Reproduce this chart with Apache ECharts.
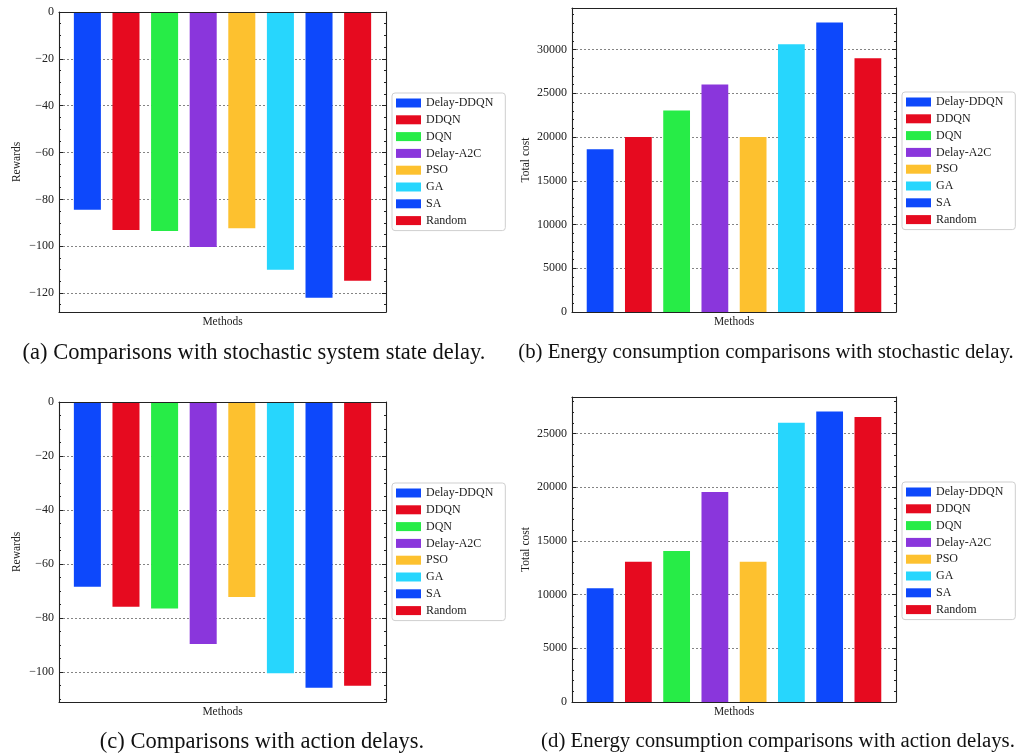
<!DOCTYPE html>
<html>
<head>
<meta charset="utf-8">
<script src="https://cdn.jsdelivr.net/npm/echarts@6/dist/echarts.min.js"></script>
<style>
  html, body { margin: 0; padding: 0; background: #fff; }
  #chart { width: 1018px; height: 753px; }
</style>
</head>
<body>
<div id="chart"></div>
<script>
// Methods compared in every panel, with their bar colours
const methods = ['Delay-DDQN', 'DDQN', 'DQN', 'Delay-A2C', 'PSO', 'GA', 'SA', 'Random'];
const methodColors = ['#0d48fb', '#e60a1f', '#27ec47', '#8a36dc', '#fdc12f', '#27d6fd', '#0d48fb', '#e60a1f'];

// (a) rewards under stochastic system state delay
const rewardsStochastic = [-84.4, -93.1, -93.5, -100.3, -92.3, -110.1, -122.0, -114.8];
// (b) total energy cost under stochastic delay
const costStochastic = [18600, 20000, 23050, 26000, 20000, 30600, 33100, 29000];
// (c) rewards under action delays
const rewardsAction = [-68.4, -75.8, -76.5, -89.6, -72.2, -100.4, -105.8, -105.1];
// (d) total energy cost under action delays
const costAction = [10600, 13050, 14050, 19550, 13050, 26000, 27050, 26550];

const captions = [
  '(a) Comparisons with stochastic system state delay.',
  '(b) Energy consumption comparisons with stochastic delay.',
  '(c) Comparisons with action delays.',
  '(d) Energy consumption comparisons with action delays.'
];
const yNames = ['Rewards', 'Total cost', 'Rewards', 'Total cost'];
const xName = 'Methods';

const serif = '"Liberation Serif", "DejaVu Serif", serif';
const ink = '#222';

// 5 % padding beyond the data, bars anchored at zero
function padExtent(values) {
  const lo = Math.min(0, ...values), hi = Math.max(0, ...values);
  return [lo < 0 ? lo * 1.05 : 0, hi > 0 ? hi * 1.05 : 0];
}
// bar slots at 0..n-1, width 0.7, plus 5 % side margins
const barHalf = 0.35;
const xSpan = methods.length - 1 + 2 * barHalf;
const xMin = -barHalf - 0.05 * xSpan, xMax = methods.length - 1 + barHalf + 0.05 * xSpan;

const panels = [
  { values: rewardsStochastic, grid: { left: 59, top: 12, width: 327, height: 300 }, legend: { left: 392, top: 93 }, split: 6, minor: 4, nameGap: 36 },
  { values: costStochastic,    grid: { left: 572, top: 8, width: 324, height: 304 }, legend: { left: 902, top: 92 }, split: 7, minor: 5, nameGap: 40 },
  { values: rewardsAction,     grid: { left: 59, top: 402, width: 327, height: 300 }, legend: { left: 392, top: 483 }, split: 6, minor: 4, nameGap: 36 },
  { values: costAction,        grid: { left: 572, top: 397, width: 324, height: 305 }, legend: { left: 902, top: 482 }, split: 6, minor: 5, nameGap: 40 }
];
// caption centre and font size under each panel
const captionLayout = [[254, 353, 22.5], [766, 353, 20.8], [262, 742, 22.5], [778, 742, 20.8]];

const fmt = v => (v < 0 ? '\u2212' + Math.abs(v) : String(v));

const option = {
  backgroundColor: '#fff',
  animation: false,
  grid: [], xAxis: [], yAxis: [], legend: [], series: [], graphic: []
};

panels.forEach((p, pi) => {
  const [yMin, yMax] = padExtent(p.values);
  const neg = yMin < 0;
  option.grid.push(Object.assign({ containLabel: false }, p.grid));

  const frameLine = { show: true, onZero: false, lineStyle: { color: ink, width: 1.1 } };
  // bottom axis: frame edge and axis title
  option.xAxis.push({
    gridIndex: pi, type: 'value', min: xMin, max: xMax, position: 'bottom', z: 5,
    axisLine: frameLine, axisTick: { show: false }, axisLabel: { show: false }, splitLine: { show: false },
    name: xName, nameLocation: 'middle', nameGap: 4,
    nameTextStyle: { fontFamily: serif, fontSize: 11.5, color: ink, verticalAlign: 'top' }
  });
  // top frame edge
  option.xAxis.push({
    gridIndex: pi, type: 'value', min: xMin, max: xMax, position: 'top', z: 5,
    axisLine: frameLine, axisTick: { show: false }, axisLabel: { show: false }, splitLine: { show: false }
  });

  const scale = { gridIndex: pi, type: 'value', min: yMin, max: yMax, splitNumber: p.split };
  // labels, title and dashed grid lines (kept beneath the bars)
  option.yAxis.push(Object.assign({}, scale, {
    position: 'left',
    axisLine: { show: false, onZero: false }, axisTick: { show: false },
    axisLabel: {
      fontFamily: serif, fontSize: 12, color: ink, margin: 5, formatter: fmt,
      showMinLabel: !neg, showMaxLabel: neg, interval: 0
    },
    splitLine: { show: true, lineStyle: { color: '#777', width: 0.9, type: [2, 2] } },
    name: yNames[pi], nameLocation: 'middle', nameGap: p.nameGap, nameRotate: 90,
    nameTextStyle: { fontFamily: serif, fontSize: 11.5, color: ink }
  }));
  // left and right frame edges with inward ticks
  ['left', 'right'].forEach(side => {
    option.yAxis.push(Object.assign({}, scale, {
      position: side, z: 5,
      axisLine: frameLine,
      axisTick: { show: true, inside: true, length: 4, lineStyle: { color: ink, width: 1 } },
      minorTick: { show: true, splitNumber: p.minor, length: 2, lineStyle: { color: ink, width: 1 } },
      axisLabel: { show: false }, splitLine: { show: false }
    }));
  });

  option.legend.push({
    left: p.legend.left, top: p.legend.top, orient: 'vertical',
    data: methods, selectedMode: false,
    icon: 'rect', itemWidth: 25, itemHeight: 9, itemGap: 4.8, itemTextGap: 7,
    padding: [4, 12, 4, 4],
    borderColor: '#cfcfcf', borderWidth: 1, borderRadius: 3, backgroundColor: '#fff',
    textStyle: { fontFamily: serif, fontSize: 12, color: ink, lineHeight: 12 }
  });

  methods.forEach((m, i) => {
    option.series.push({
      type: 'bar', name: m,
      xAxisIndex: pi * 2, yAxisIndex: pi * 3,
      data: [[i, p.values[i]]],
      barWidth: '70%', barGap: '-100%',
      itemStyle: { color: methodColors[i] },
      emphasis: { disabled: true }, silent: true
    });
  });

  const [cx, cy, cs] = captionLayout[pi];
  option.graphic.push({
    type: 'text', x: cx, y: cy,
    style: {
      text: captions[pi], font: cs + 'px ' + serif, fill: '#111',
      align: 'center', verticalAlign: 'middle', textAlign: 'center', textVerticalAlign: 'middle'
    }
  });
});

const chart = echarts.init(document.getElementById('chart'), null, { renderer: 'canvas' });
chart.setOption(option);
</script>
</body>
</html>
